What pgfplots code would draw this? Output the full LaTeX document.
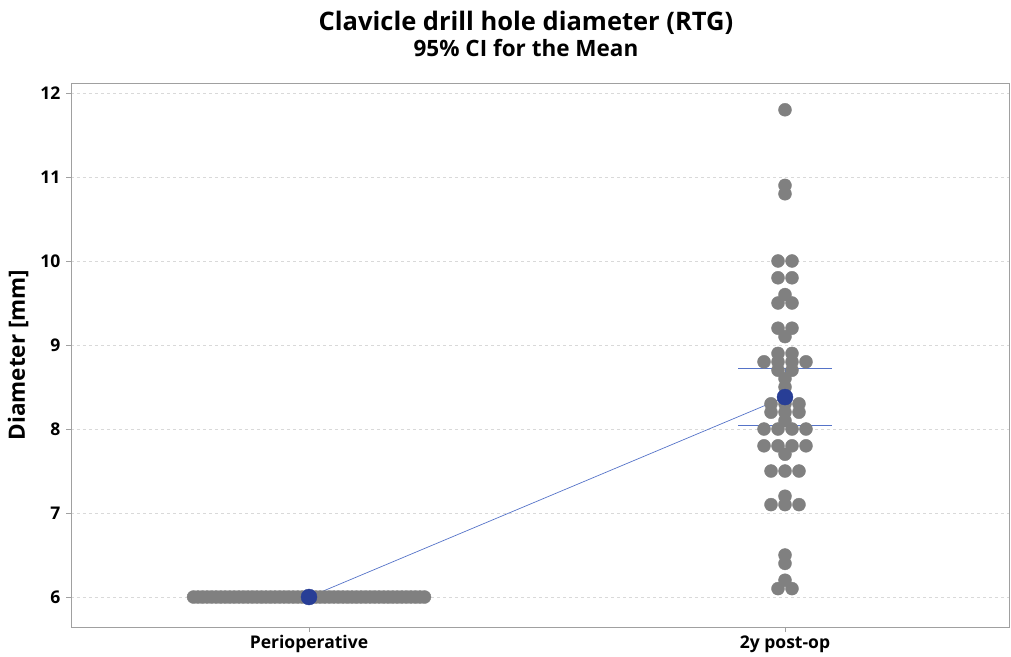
\documentclass[border=0pt]{standalone}
\usepackage{fontspec}
\setmainfont{Open Sans}
\usepackage{pgfplots}
\pgfplotsset{compat=1.18}
\definecolor{dotgray}{RGB}{128,128,128}
\definecolor{meanblue}{RGB}{40,62,150}
\definecolor{lineblue}{RGB}{85,115,200}
\definecolor{framegray}{RGB}{160,160,160}
\begin{document}
\begin{tikzpicture}
\useasboundingbox (-71pt,-29pt) rectangle (940pt,627pt);
\begin{axis}[
  at={(0pt,0pt)}, anchor=south west,
  width=938pt, height=544pt, scale only axis,
  xmin=-0.5, xmax=1.4706, ymin=5.643, ymax=12.119,
  xtick={0,1}, xticklabels={Perioperative,2y post-op},
  ytick={6,7,8,9,10,11,12},
  xtick pos=lower, ytick pos=left,
  ymajorgrids, major grid style={dashed, gray!30, line width=0.5pt},
  axis line style={framegray},
  tick style={framegray}, tick align=outside, major tick length=5pt,
  ticklabel style={font=\fontsize{17.5}{20}\selectfont\bfseries},
  yticklabel style={xshift=-2pt},
  /pgf/number format/assume math mode=true,
  clip=false,
]
% Perioperative: all values 6.0 (52 observations)
\addplot[only marks, mark=*, mark size=6.5pt, draw=dotgray, fill=dotgray, mark options={draw=dotgray, fill=dotgray}] coordinates {
(-0.2426,6) (-0.2331,6) (-0.2236,6) (-0.2141,6) (-0.2045,6) (-0.1950,6) (-0.1855,6) (-0.1760,6)
(-0.1665,6) (-0.1570,6) (-0.1474,6) (-0.1379,6) (-0.1284,6) (-0.1189,6) (-0.1094,6) (-0.0999,6)
(-0.0903,6) (-0.0808,6) (-0.0713,6) (-0.0618,6) (-0.0523,6) (-0.0428,6) (-0.0332,6) (-0.0237,6)
(-0.0142,6) (-0.0047,6) (0.0047,6) (0.0142,6) (0.0237,6) (0.0332,6) (0.0428,6) (0.0523,6)
(0.0618,6) (0.0713,6) (0.0808,6) (0.0903,6) (0.0999,6) (0.1094,6) (0.1189,6) (0.1284,6)
(0.1379,6) (0.1474,6) (0.1570,6) (0.1665,6) (0.1760,6) (0.1855,6) (0.1950,6) (0.2045,6)
(0.2141,6) (0.2236,6) (0.2331,6) (0.2426,6)
};
% 2y post-op
\addplot[only marks, mark=*, mark size=6.5pt, draw=dotgray, fill=dotgray, mark options={draw=dotgray, fill=dotgray}] coordinates {
(1,11.8)
(1,10.9) (1,10.8)
(0.9853,10.0) (1.0147,10.0)
(0.9853,9.8) (1.0147,9.8)
(1,9.6) (0.9853,9.5) (1.0147,9.5)
(0.9853,9.2) (1.0147,9.2) (1,9.1)
(0.9853,8.9) (1.0147,8.9)
(0.9559,8.8) (0.9853,8.8) (1.0147,8.8) (1.0441,8.8)
(0.9853,8.7) (1.0147,8.7)
(1,8.6) (1,8.5) (1,8.4)
(0.9706,8.3) (1,8.3) (1.0294,8.3)
(0.9706,8.2) (1,8.2) (1.0294,8.2)
(1,8.1)
(0.9559,8.0) (0.9853,8.0) (1.0147,8.0) (1.0441,8.0)
(0.9559,7.8) (0.9853,7.8) (1.0147,7.8) (1.0441,7.8)
(1,7.7)
(0.9706,7.5) (1,7.5) (1.0294,7.5)
(1,7.2) (0.9706,7.1) (1,7.1) (1.0294,7.1)
(1,6.5) (1,6.4)
(1,6.2) (0.9853,6.1) (1.0147,6.1)
};
% 95% CI
\addplot[lineblue, line width=0.8pt] coordinates {(-0.098,6) (0.098,6)};
\addplot[lineblue, line width=0.8pt] coordinates {(0.902,8.04) (1.098,8.04)};
\addplot[lineblue, line width=0.8pt] coordinates {(0.902,8.72) (1.098,8.72)};
\addplot[lineblue, line width=0.8pt] coordinates {(1,8.04) (1,8.72)};
% mean connect line
\addplot[lineblue, line width=0.7pt] coordinates {(0,6) (1,8.38)};
% means
\addplot[only marks, mark=*, mark size=8pt, draw=meanblue, fill=meanblue, mark options={draw=meanblue, fill=meanblue}] coordinates {(0,6) (1,8.38)};
\end{axis}
\node[anchor=base, font=\fontsize{25.5}{30}\selectfont\bfseries] at (455pt,596pt) {Clavicle drill hole diameter (RTG)};
\node[anchor=base, font=\fontsize{22.5}{27}\selectfont\bfseries] at (455pt,570pt) {95\% CI for the Mean};
\node[rotate=90, font=\fontsize{22.5}{27}\selectfont\bfseries] at (-53pt,272pt) {Diameter [mm]};
\end{tikzpicture}
\end{document}
